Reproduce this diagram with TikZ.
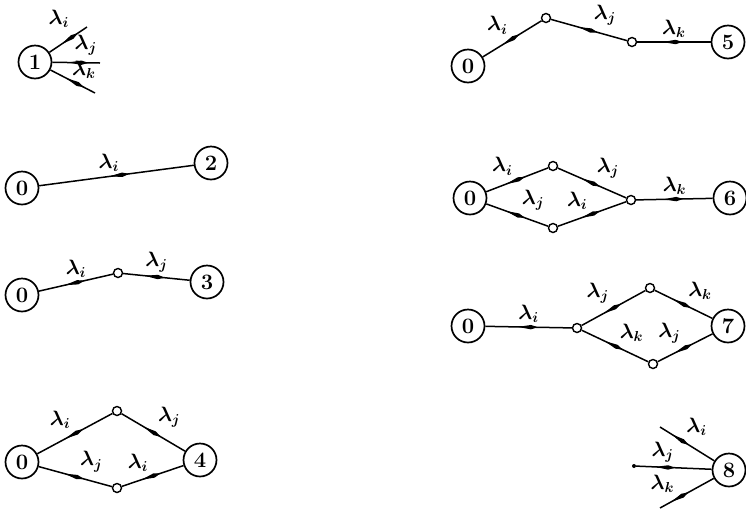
\documentclass[tikz,border=0pt]{standalone}
\usepackage{amsmath}
\usepackage{tikz}
\usetikzlibrary{positioning}
\usetikzlibrary{decorations.markings}

\begin{document}
\begin{tikzpicture}[
    x=1pt, y=-1pt,
    state/.style={circle, draw, line width=1.7pt, minimum size=33pt, inner sep=0pt, font=\fontsize{22}{26}\selectfont\bfseries},
    junc/.style={circle, draw, fill=white, line width=1.4pt, minimum size=9pt, inner sep=0pt},
    rate/.style={line width=1.5pt, postaction={decorate, decoration={markings, mark=at position #1 with {\fill (-15pt,0) -- (-2pt,2.2pt) -- (5pt,0) -- (-2pt,-2.2pt) -- cycle;}}}},
    rate/.default=0.55,
    lbl/.style={font=\fontsize{20}{22}\selectfont\boldmath, inner sep=4pt}
]
\useasboundingbox (0,0) rectangle (746,512);

% Graph 1
\node[state] (one) at (35,62) {1};
\coordinate (outi) at (87,27);
\coordinate (outj) at (100,63);
\coordinate (outk) at (95,93);
\draw[rate=0.65] (one) -- node[lbl, above left, pos=0.7, inner sep=6pt] {$\lambda_i$} (outi);
\draw[rate=0.65] (one) -- node[lbl, above, pos=0.7, inner sep=7pt] {$\lambda_j$} (outj);
\draw[rate=0.65] (one) -- node[lbl, above right, pos=0.45, inner sep=1pt] {$\lambda_k$} (outk);

% Graph 2
\node[state] (zeroB) at (22,188) {0};
\node[state] (two) at (211,163) {2};
\draw[rate] (zeroB) -- node[lbl, above, pos=0.45] {$\lambda_i$} (two);

% Graph 3
\node[state] (zeroC) at (22,295) {0};
\node[junc] (midC) at (118,273) {};
\node[state] (three) at (207,282) {3};
\draw[rate] (zeroC) -- node[lbl, above] {$\lambda_i$} (midC);
\draw[rate] (midC) -- node[lbl, above] {$\lambda_j$} (three);

% Graph 4
\node[state] (zeroD) at (22,462) {0};
\node[junc] (upD) at (117,411) {};
\node[junc] (downD) at (117,488) {};
\node[state] (four) at (200,460) {4};
\draw[rate] (zeroD) -- node[lbl, above left] {$\lambda_i$} (upD);
\draw[rate] (upD) -- node[lbl, above right] {$\lambda_j$} (four);
\draw[rate] (zeroD) -- node[lbl, above right] {$\lambda_j$} (downD);
\draw[rate] (downD) -- node[lbl, above left] {$\lambda_i$} (four);

% Graph 5
\node[state] (zeroE) at (468,66) {0};
\node[junc] (aE) at (546,18) {};
\node[junc] (bE) at (632,42) {};
\node[state] (five) at (728,42) {5};
\draw[rate] (zeroE) -- node[lbl, above left] {$\lambda_i$} (aE);
\draw[rate] (aE) -- node[lbl, above right] {$\lambda_j$} (bE);
\draw[rate] (bE) -- node[lbl, above] {$\lambda_k$} (five);

% Graph 6
\node[state] (zeroF) at (470,198) {0};
\node[junc] (upF) at (553,166) {};
\node[junc] (downF) at (553,228) {};
\node[junc] (joinF) at (631,200) {};
\node[state] (six) at (730,198) {6};
\draw[rate] (zeroF) -- node[lbl, above left] {$\lambda_i$} (upF);
\draw[rate] (upF) -- node[lbl, above right] {$\lambda_j$} (joinF);
\draw[rate] (zeroF) -- node[lbl, above right] {$\lambda_j$} (downF);
\draw[rate] (downF) -- node[lbl, above left] {$\lambda_i$} (joinF);
\draw[rate] (joinF) -- node[lbl, above] {$\lambda_k$} (six);

% Graph 7
\node[state] (zeroG) at (468,326) {0};
\node[junc] (splitG) at (577,328) {};
\node[junc] (upG) at (650,288) {};
\node[junc] (downG) at (653,364) {};
\node[state] (seven) at (728,326) {7};
\draw[rate] (zeroG) -- node[lbl, above] {$\lambda_i$} (splitG);
\draw[rate] (splitG) -- node[lbl, above left] {$\lambda_j$} (upG);
\draw[rate] (upG) -- node[lbl, above right] {$\lambda_k$} (seven);
\draw[rate] (splitG) -- node[lbl, above right] {$\lambda_k$} (downG);
\draw[rate] (downG) -- node[lbl, above left] {$\lambda_j$} (seven);

% Graph 8
\node[state] (eight) at (729,470) {8};
\coordinate (ini) at (660,427);
\node[circle, fill, inner sep=0pt, minimum size=4pt] (inj) at (634,466) {};
\coordinate (ink) at (660,508);
\draw[rate=0.45] (ini) -- node[lbl, above right, pos=0.4] {$\lambda_i$} (eight);
\draw[rate=0.45] (inj) -- node[lbl, above, pos=0.35] {$\lambda_j$} (eight);
\draw[rate=0.45] (ink) -- node[lbl, above left, pos=0.35] {$\lambda_k$} (eight);

\end{tikzpicture}
\end{document}
